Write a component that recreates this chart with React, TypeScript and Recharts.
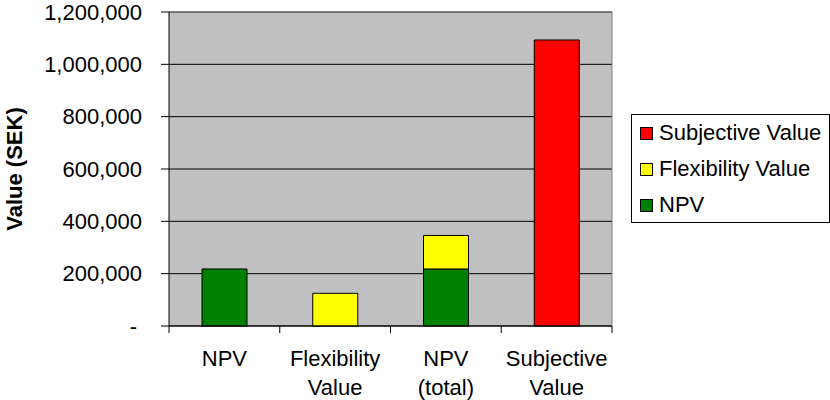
import { BarChart, Bar, XAxis, YAxis, CartesianGrid, Legend, Label } from 'recharts';

const categories = ['NPV', 'Flexibility Value', 'NPV (total)', 'Subjective Value'];
const npv = [218000, 0, 218000, 0];
const flexibility = [0, 125000, 128000, 0];
const subjective = [0, 0, 0, 1093000];
const yTicks = [0, 200000, 400000, 600000, 800000, 1000000, 1200000];

const seriesKeys = ['npv', 'flex', 'subj'];
const seriesNames = ['NPV', 'Flexibility Value', 'Subjective Value'];
const seriesColors = ['#008000', '#ffff00', '#ff0000'];

const FONT = '"Liberation Sans", Arial, sans-serif';
const FS = 22;

const data = categories.map((name, i) => ({
  name,
  npv: npv[i],
  flex: flexibility[i],
  subj: subjective[i],
}));

function YTick({ x, y, payload }: any) {
  const v = payload.value;
  const text = v === 0 ? '-' : v.toLocaleString('en-US');
  return (
    <text x={v === 0 ? x - 5 : x} y={y} dy="0.355em" textAnchor="end" fontFamily={FONT} fontSize={FS} fill="#000">
      {text}
    </text>
  );
}

// two-line category label, plus tick marks on the band edges (Excel style)
function XTick({ x, y, payload, index, visibleTicksCount }: any) {
  const lines = String(payload.value).split(' ');
  const half = payload.offset;
  const isLast = index === visibleTicksCount - 1;
  return (
    <g>
      <line x1={x - half} x2={x - half} y1={y} y2={y + 7} stroke="#000" />
      {isLast && <line x1={x + half} x2={x + half} y1={y} y2={y + 7} stroke="#000" />}
      <text x={x} y={y + 40} textAnchor="middle" fontFamily={FONT} fontSize={FS} fill="#000">
        {lines.map((l, i) => (
          <tspan key={i} x={x} dy={i === 0 ? 0 : 29}>{l}</tspan>
        ))}
      </text>
    </g>
  );
}

function LegendBox() {
  const order = [2, 1, 0];
  return (
    <div style={{ border: '1px solid #000', boxSizing: 'border-box', width: 199, height: 109, background: '#fff', fontFamily: FONT, fontSize: FS }}>
      {order.map((i) => (
        <div key={i} style={{ display: 'flex', alignItems: 'center', height: 36, paddingLeft: 8, whiteSpace: 'nowrap' }}>
          <span style={{ display: 'inline-block', width: 11, height: 11, background: seriesColors[i], border: '1px solid #000', marginRight: 6 }} />
          <span>{seriesNames[i]}</span>
        </div>
      ))}
    </div>
  );
}

export default function App() {
  return (
    <div style={{ position: 'absolute', left: 0, top: 0, background: '#fff' }}>
      <BarChart width={830} height={400} data={data} margin={{ top: 11, right: 18, bottom: 0, left: 0 }} barSize={45}>
        <CartesianGrid vertical={false} stroke="#000" fill="#c0c0c0" fillOpacity={1} />
        <XAxis dataKey="name" height={74} tickSize={0} tickMargin={0} tickLine={false}
          axisLine={{ stroke: '#000' }} tick={<XTick />} interval={0} />
        <XAxis xAxisId="top" orientation="top" type="number" domain={[0, 1]} height={1} tick={false} tickLine={false}
          axisLine={{ stroke: '#808080' }} />
        <YAxis domain={[0, 1200000]} ticks={yTicks} width={169} tickSize={8} tickMargin={19} tick={<YTick />}
          tickLine={{ stroke: '#000' }} axisLine={{ stroke: '#000' }} interval={0}>
          <Label
            content={({ viewBox }: any) => {
              const cx = viewBox.x + 22;
              const cy = viewBox.y + viewBox.height / 2;
              return (
                <text x={cx} y={cy} transform={`rotate(-90, ${cx}, ${cy})`} textAnchor="middle" fontFamily={FONT} fontSize={FS} fontWeight="bold" fill="#000">
                  Value (SEK)
                </text>
              );
            }}
          />
        </YAxis>
        <YAxis yAxisId="right" orientation="right" width={1} tick={false} tickLine={false} axisLine={{ stroke: '#808080' }} />
        {seriesKeys.map((k, i) => (
          <Bar key={k} dataKey={k} name={seriesNames[i]} stackId="a" fill={seriesColors[i]} stroke="#000" strokeWidth={1} isAnimationActive={false} />
        ))}
        <Legend layout="vertical" align="right" verticalAlign="middle" content={<LegendBox />}
          wrapperStyle={{ position: 'absolute', left: 631, top: 114, width: 199, height: 109 }} />
      </BarChart>
    </div>
  );
}
